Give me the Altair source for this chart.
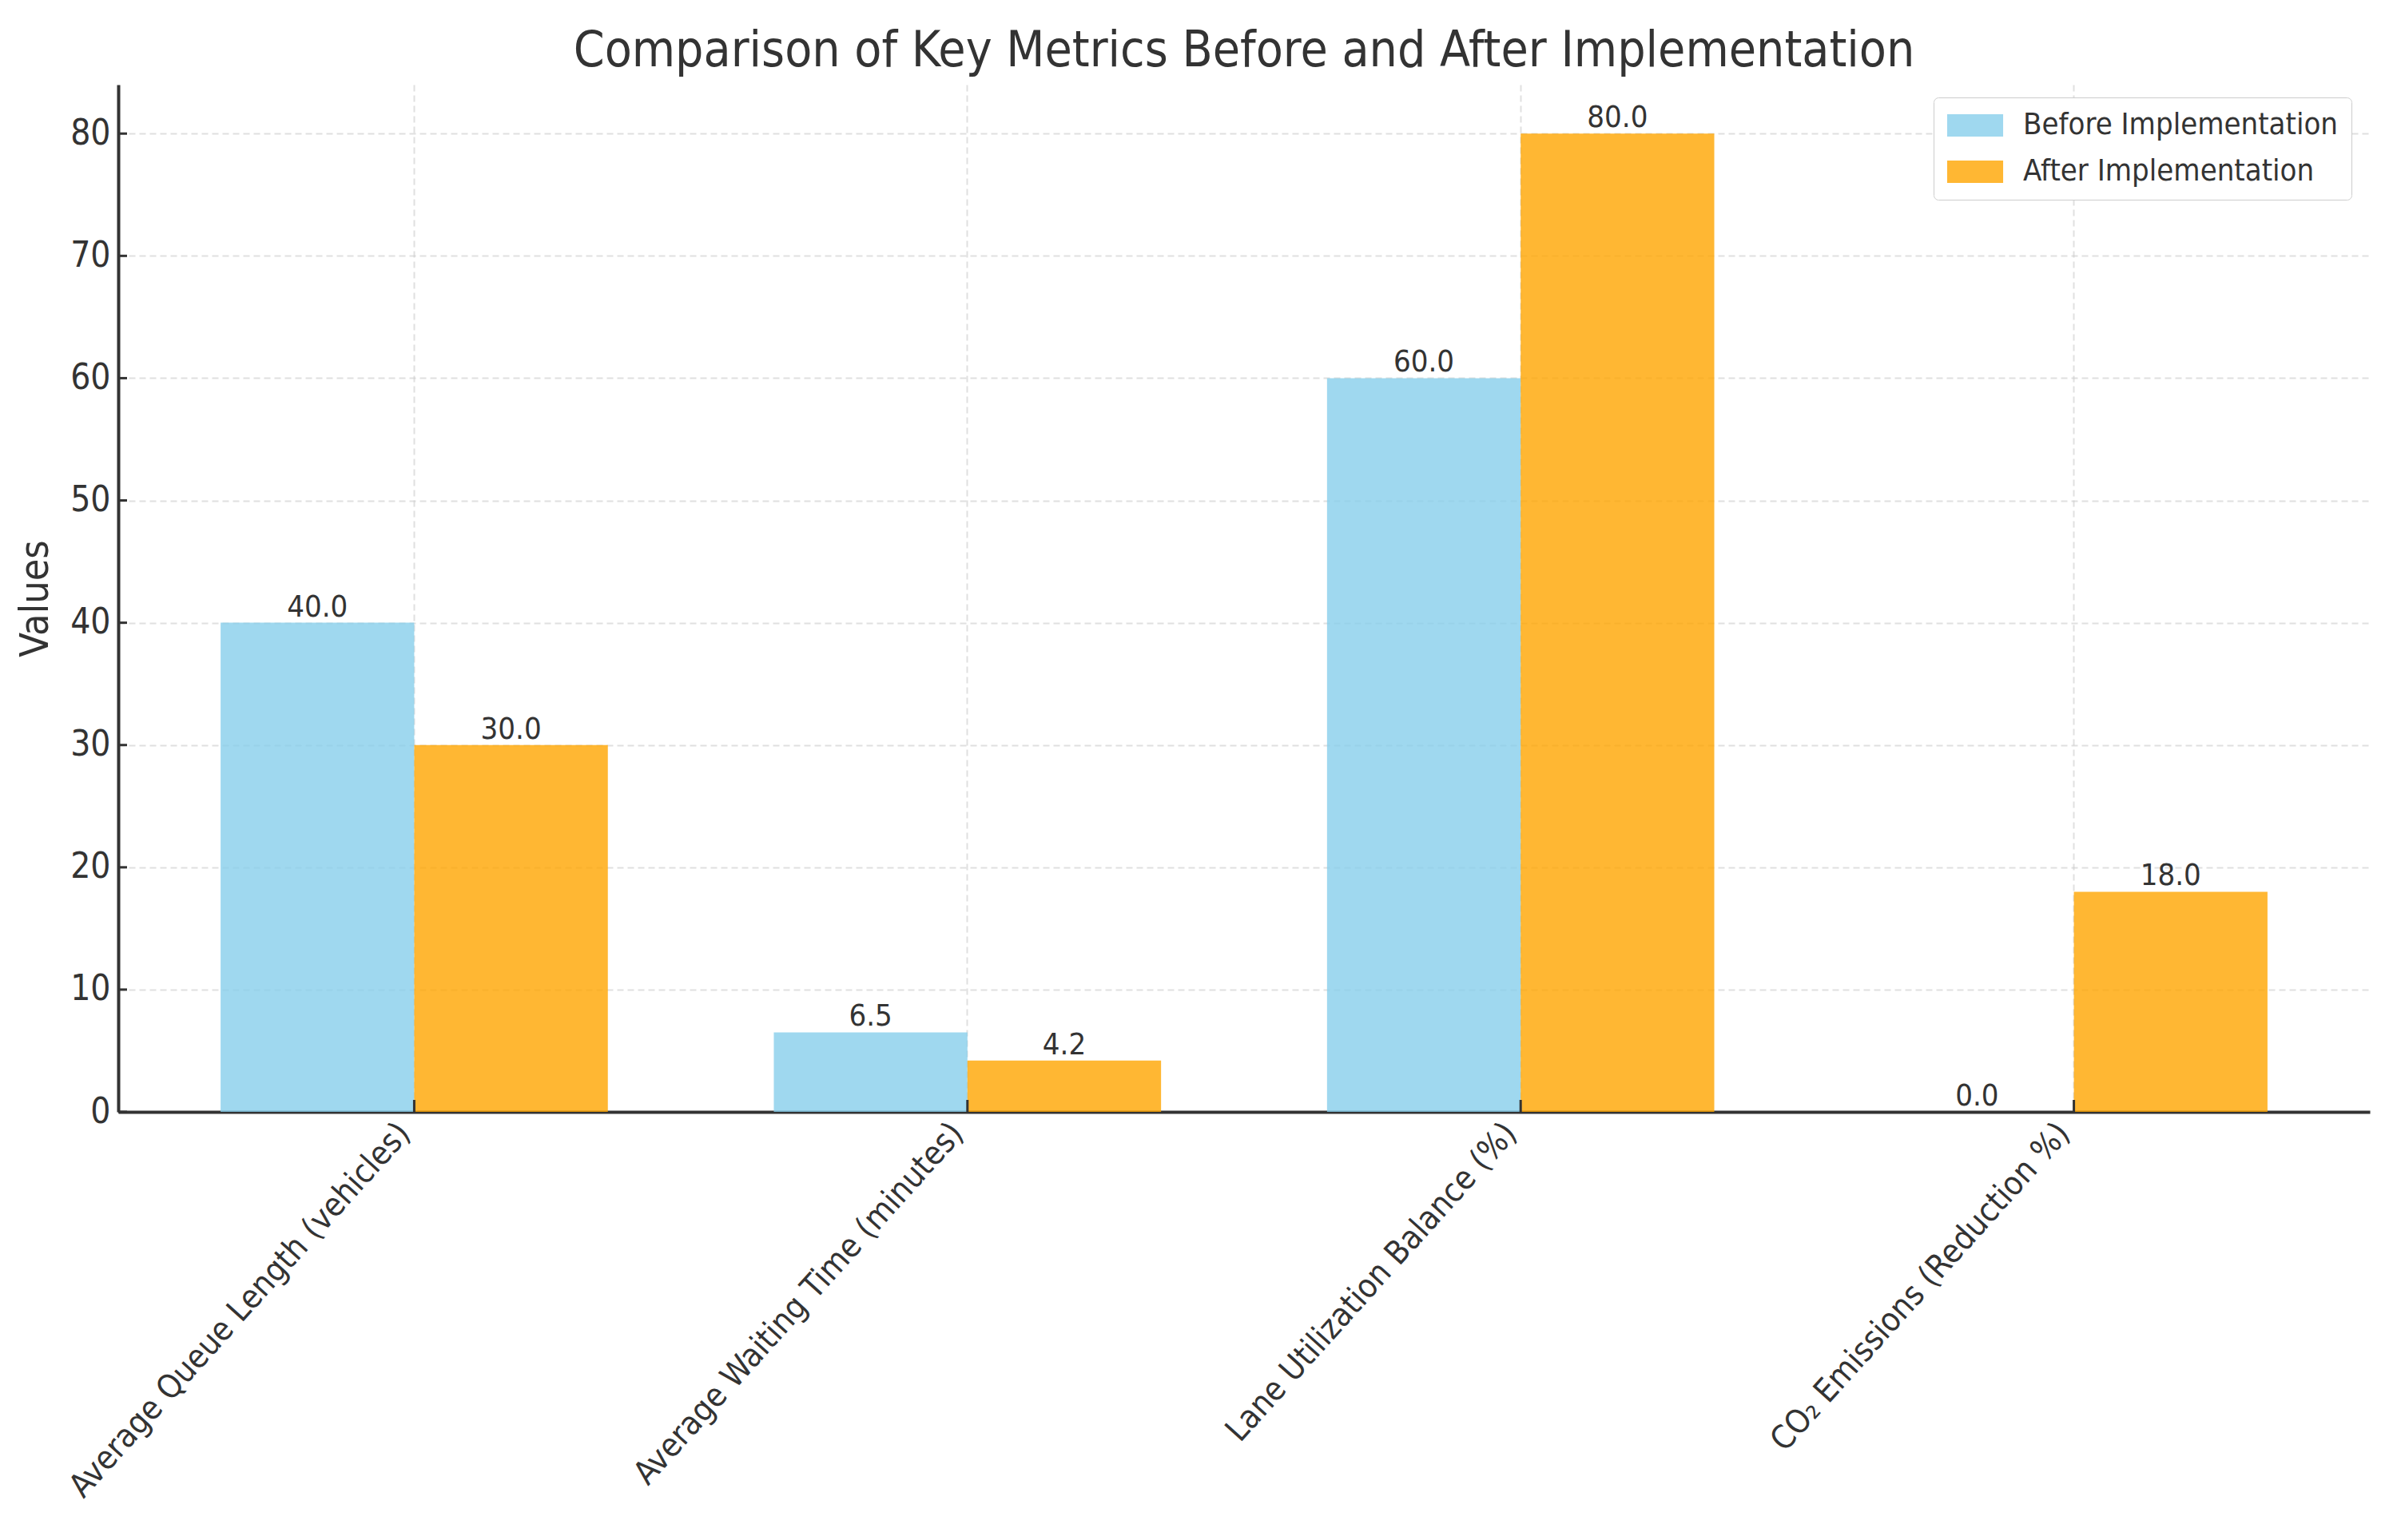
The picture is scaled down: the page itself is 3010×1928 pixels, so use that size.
import altair as alt
import pandas as pd

metrics = [
    "Average Queue Length (vehicles)",
    "Average Waiting Time (minutes)",
    "Lane Utilization Balance (%)",
    "CO\u2082 Emissions (Reduction %)",
]
before_values = [40.0, 6.5, 60.0, 0.0]
after_values = [30.0, 4.2, 80.0, 18.0]
series_names = ["Before Implementation", "After Implementation"]
series_colors = ["#87CEEB", "#FFA500"]
y_ticks = [0, 10, 20, 30, 40, 50, 60, 70, 80]

rows = []
for m, b, a in zip(metrics, before_values, after_values):
    rows.append({"metric": m, "series": series_names[0], "value": b})
    rows.append({"metric": m, "series": series_names[1], "value": a})
df = pd.DataFrame(rows)
ytick_df = pd.DataFrame({"value": y_ticks})
xtick_df = pd.DataFrame({"metric": metrics})

W, H = 2818, 1286
FONT = "DejaVu Sans Condensed, DejaVu Sans"
TXT = "#333333"

x_enc = alt.X(
    "metric:N",
    sort=metrics,
    scale=alt.Scale(domain=metrics, paddingInner=0.3, paddingOuter=0.185),
    axis=alt.Axis(
        title=None,
        labelAngle=-48,
        labelAlign="right",
        labelBaseline="middle",
        labelPadding=20,
        labelOffset=-12,
        labelFontSize=41,
        labelLimit=0,
        ticks=False,
        grid=True,
        bandPosition=0.5,
    ),
)
y_enc = alt.Y(
    "value:Q",
    scale=alt.Scale(domain=[0, 84], nice=False, zero=True),
    axis=alt.Axis(
        title="Values",
        values=y_ticks,
        ticks=False,
        labelPadding=10,
        labelFontSize=44,
        titleFontSize=50,
        titleFontWeight="normal",
        titlePadding=18,
        grid=True,
    ),
)
xoff = alt.XOffset(
    "series:N", sort=series_names, scale=alt.Scale(domain=series_names, paddingInner=0, paddingOuter=0)
)

bars = alt.Chart(df).mark_bar(opacity=0.8).encode(
    x=x_enc,
    xOffset=xoff,
    y=y_enc,
    color=alt.Color(
        "series:N",
        sort=series_names,
        scale=alt.Scale(domain=series_names, range=series_colors),
        legend=alt.Legend(
            title=None,
            orient="none",
            legendX=2272,
            legendY=16,
            padding=16,
            strokeColor="#cccccc",
            fillColor="white",
            cornerRadius=6,
            symbolType="M-1.2,-0.93L3.47,-0.93L3.47,0.93L-1.2,0.93Z",
            symbolSize=900,
            symbolStrokeWidth=0,
            symbolOpacity=0.8,
            labelFont=FONT,
            labelFontSize=38,
            labelColor=TXT,
            labelOffset=58,
            labelLimit=0,
            rowPadding=20,
        ),
    ),
)

labels = alt.Chart(df).mark_text(
    baseline="alphabetic", dy=-8, fontSize=38, font=FONT, color=TXT
).encode(
    x=x_enc,
    xOffset=xoff,
    y=y_enc,
    text=alt.Text("value:Q", format=".1f"),
)

yticks = alt.Chart(ytick_df).mark_rule(color="#333333", strokeWidth=3).encode(
    y=y_enc, x=alt.value(0), x2=alt.value(11)
)
xticks = alt.Chart(xtick_df).mark_rule(color="#333333", strokeWidth=3).encode(
    x=x_enc, y=alt.value(H), y2=alt.value(H - 15)
)

chart = (
    alt.layer(bars, labels, yticks, xticks)
    .properties(
        width=W,
        height=H,
        title=alt.Title(
            "Comparison of Key Metrics Before and After Implementation",
            fontSize=62,
            font=FONT,
            color=TXT,
            fontWeight="normal",
            anchor="middle",
            baseline="alphabetic",
            offset=-39,
        ),
        autosize=alt.AutoSizeParams(type="none"),
        padding={"left": 140, "top": 98, "right": 20, "bottom": 530},
    )
    .configure_view(stroke=None)
    .configure_axis(
        labelFont=FONT,
        titleFont=FONT,
        labelColor=TXT,
        titleColor=TXT,
        domainColor="#333333",
        domainWidth=4,
        gridColor="#cccccc",
        gridOpacity=0.6,
        gridDash=[8, 5],
        gridWidth=2,
    )
)

chart.save("out.html", embed_options={"renderer": "svg", "actions": False})
